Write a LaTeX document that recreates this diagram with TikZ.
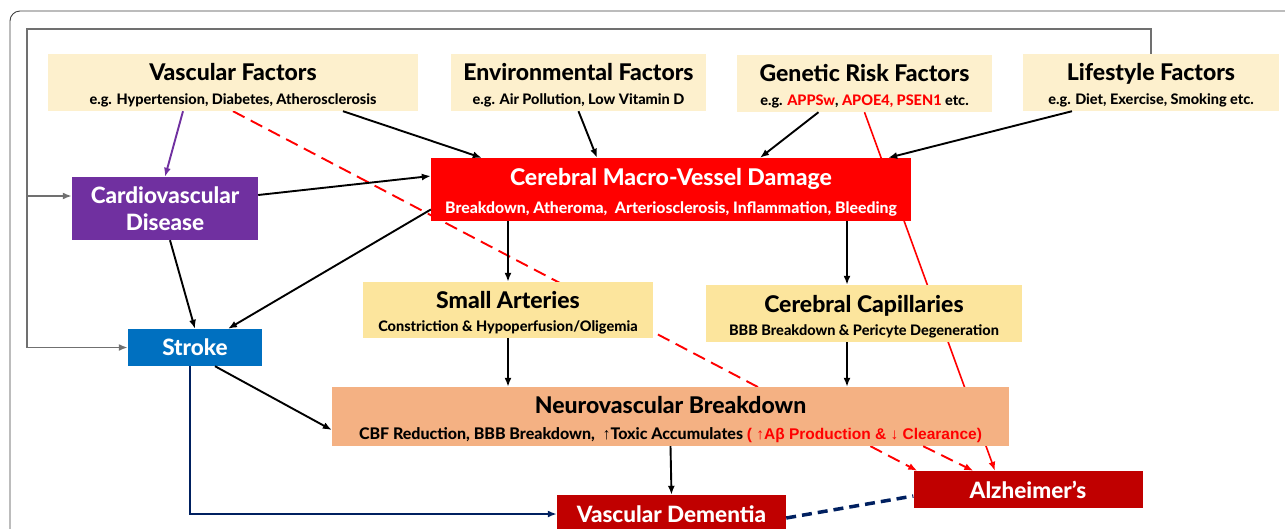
\documentclass[tikz,border=0pt]{standalone}
\usepackage{fontspec}
\setmainfont{Lato}[BoldFont={Lato Heavy}]
\newfontfamily\arialfont{Liberation Sans}
\usetikzlibrary{arrows.meta,positioning}
\pgfdeclarelayer{background}
\pgfsetlayers{background,main}

\definecolor{factorbg}{HTML}{FDF0CD}
\definecolor{vesselbg}{HTML}{FCE59D}
\definecolor{breakbg}{HTML}{F4B183}
\definecolor{cmvdred}{HTML}{FF0000}
\definecolor{cvdpurple}{HTML}{7030A0}
\definecolor{strokeblue}{HTML}{0070C0}
\definecolor{dementiared}{HTML}{C00000}
\definecolor{navyblue}{HTML}{002060}
\definecolor{loopgray}{HTML}{707070}

\newcommand{\hd}{\fontsize{23}{25}\selectfont\rule{0pt}{23pt}}

\begin{document}
\begin{tikzpicture}[x=1pt,y=-1pt,
  link/.style={-{Latex[length=9pt,width=7pt]},line width=1.9pt},
  red dash/.style={link,red,dash pattern=on 13pt off 7pt},
  factor node/.style={rectangle,fill=factorbg,inner sep=0pt,align=center,font=\bfseries\fontsize{14.5}{24}\selectfont},
  vessel node/.style={rectangle,fill=vesselbg,inner sep=0pt,align=center,font=\bfseries\fontsize{14.5}{23}\selectfont},
  white node/.style={rectangle,inner sep=0pt,align=center,text=white,font=\bfseries\fontsize{22.5}{27}\selectfont}]

  \useasboundingbox (0,0) rectangle (1285,528);
  \clip (0,0) rectangle (1285,528);
  \draw[line width=0.9pt,black!75,rounded corners=10pt] (10,11) rectangle (1320,570);

  % risk factors
  \node[factor node,minimum width=370pt,minimum height=57pt] (vasc) at (233,82.5)
    {{\hd Vascular Factors}\\e.g. Hypertension, Diabetes, Atherosclerosis};
  \node[factor node,minimum width=255pt,minimum height=57pt] (env) at (578.5,82.5)
    {{\hd Environmental Factors}\\e.g. Air Pollution, Low Vitamin D};
  \node[factor node,minimum width=255pt,minimum height=57pt] (gen) at (864.5,83.5)
    {{\hd Genetic Risk Factors}\\e.g. \textcolor{red}{APPSw}, \textcolor{red}{APOE4, PSEN1} etc.};
  \node[factor node,minimum width=256pt,minimum height=57pt] (life) at (1151,82.5)
    {{\hd Lifestyle Factors}\\e.g. Diet, Exercise, Smoking etc.};

  % diseases and damage
  \node[white node,fill=cvdpurple,minimum width=186pt,minimum height=63pt] (cvd) at (165,208.5)
    {Cardiovascular\\Disease};
  \node[white node,fill=cmvdred,minimum width=480pt,minimum height=63pt,font=\bfseries\fontsize{15.8}{28}\selectfont] (cmvd) at (671,189.5)
    {{\hd Cerebral Macro-Vessel Damage}\\Breakdown, Atheroma,\ \ Arteriosclerosis, Inflammation, Bleeding};
  \node[white node,fill=strokeblue,minimum width=134pt,minimum height=37pt] (stroke) at (195,347.5) {Stroke};
  \node[vessel node,minimum width=290pt,minimum height=56pt] (small) at (508,310)
    {{\hd Small Arteries}\\Constriction \& Hypoperfusion/Oligemia};
  \node[vessel node,minimum width=316pt,minimum height=57pt] (cap) at (864,313.5)
    {{\hd Cerebral Capillaries}\\BBB Breakdown \& Pericyte Degeneration};
  \node[rectangle,fill=breakbg,inner sep=0pt,align=center,minimum width=677pt,minimum height=59pt,
    font=\bfseries\fontsize{16}{26}\selectfont] (nvb) at (670.5,416.5)
    {{\hd Neurovascular Breakdown}\\CBF Reduction, BBB Breakdown,\ \ {\arialfont ↑}Toxic Accumulates
     {\arialfont\fontsize{15.5}{26}\selectfont\color{red}( ↑Aβ Production \& ↓ Clearance)}};
  \node[white node,fill=dementiared,minimum width=229pt,minimum height=38pt] (vd) at (671.5,514) {Vascular Dementia};
  \node[white node,fill=dementiared,minimum width=229pt,minimum height=37pt] (alz) at (1028,489.5) {Alzheimer’s};

  % lines that pass behind the boxes
  \begin{pgfonlayer}{background}
    \draw[red dash] (vasc.south) -- ([xshift=4pt]alz.north west);
    \draw[link,red,line width=1.6pt] (gen.south) -- ([xshift=-33pt]alz.north);
  \end{pgfonlayer}
  \draw[red dash] ([xshift=-86pt]nvb.south east) -- ([xshift=60pt]alz.north west);

  % feedback loop from lifestyle
  \coordinate (looptop) at (27,29);
  \coordinate (cvdin) at ([yshift=12.5pt]cvd.west);
  \draw[link,loopgray] (life.north) |- (looptop) |- (stroke.west);
  \draw[link,loopgray] (cvdin -| looptop) -- (cvdin);

  \path[link]
    ([xshift=110pt]vasc.south) edge ([xshift=51pt]cmvd.north west)
    (env.south) edge ([xshift=-74pt]cmvd.north)
    ([xshift=-46pt]gen.south) edge ([xshift=89pt]cmvd.north)
    ([xshift=-79pt]life.south) edge ([xshift=-23pt]cmvd.north east)
    ([yshift=13.5pt]cvd.east) edge ([yshift=13.5pt]cmvd.west)
    ([xshift=5pt]cvd.south) edge (stroke.north)
    ([yshift=-20pt]cmvd.west) edge ([xshift=33pt]stroke.north)
    (small.north |- cmvd.south) edge (small.north)
    ([xshift=-17pt]cap.north |- cmvd.south) edge ([xshift=-17pt]cap.north)
    (small.south) edge (small.south |- nvb.north)
    ([xshift=-17pt]cap.south) edge ([xshift=-17pt]cap.south |- nvb.north)
    ([xshift=20pt]stroke.south) edge ([yshift=-13.5pt]nvb.west)
    (nvb.south) edge (vd.north);
  \draw[link,cvdpurple] ([xshift=-50pt]vasc.south) -- (cvd.north);

  % stroke and alzheimer's to dementia
  \draw[link,navyblue,line width=2.2pt] ([xshift=-5pt]stroke.south) |- (vd.west);
  \draw[navyblue,line width=3.5pt,dash pattern=on 10pt off 6pt] ([yshift=-4pt]vd.east) -- ([yshift=-6.5pt]alz.west);
\end{tikzpicture}
\end{document}
